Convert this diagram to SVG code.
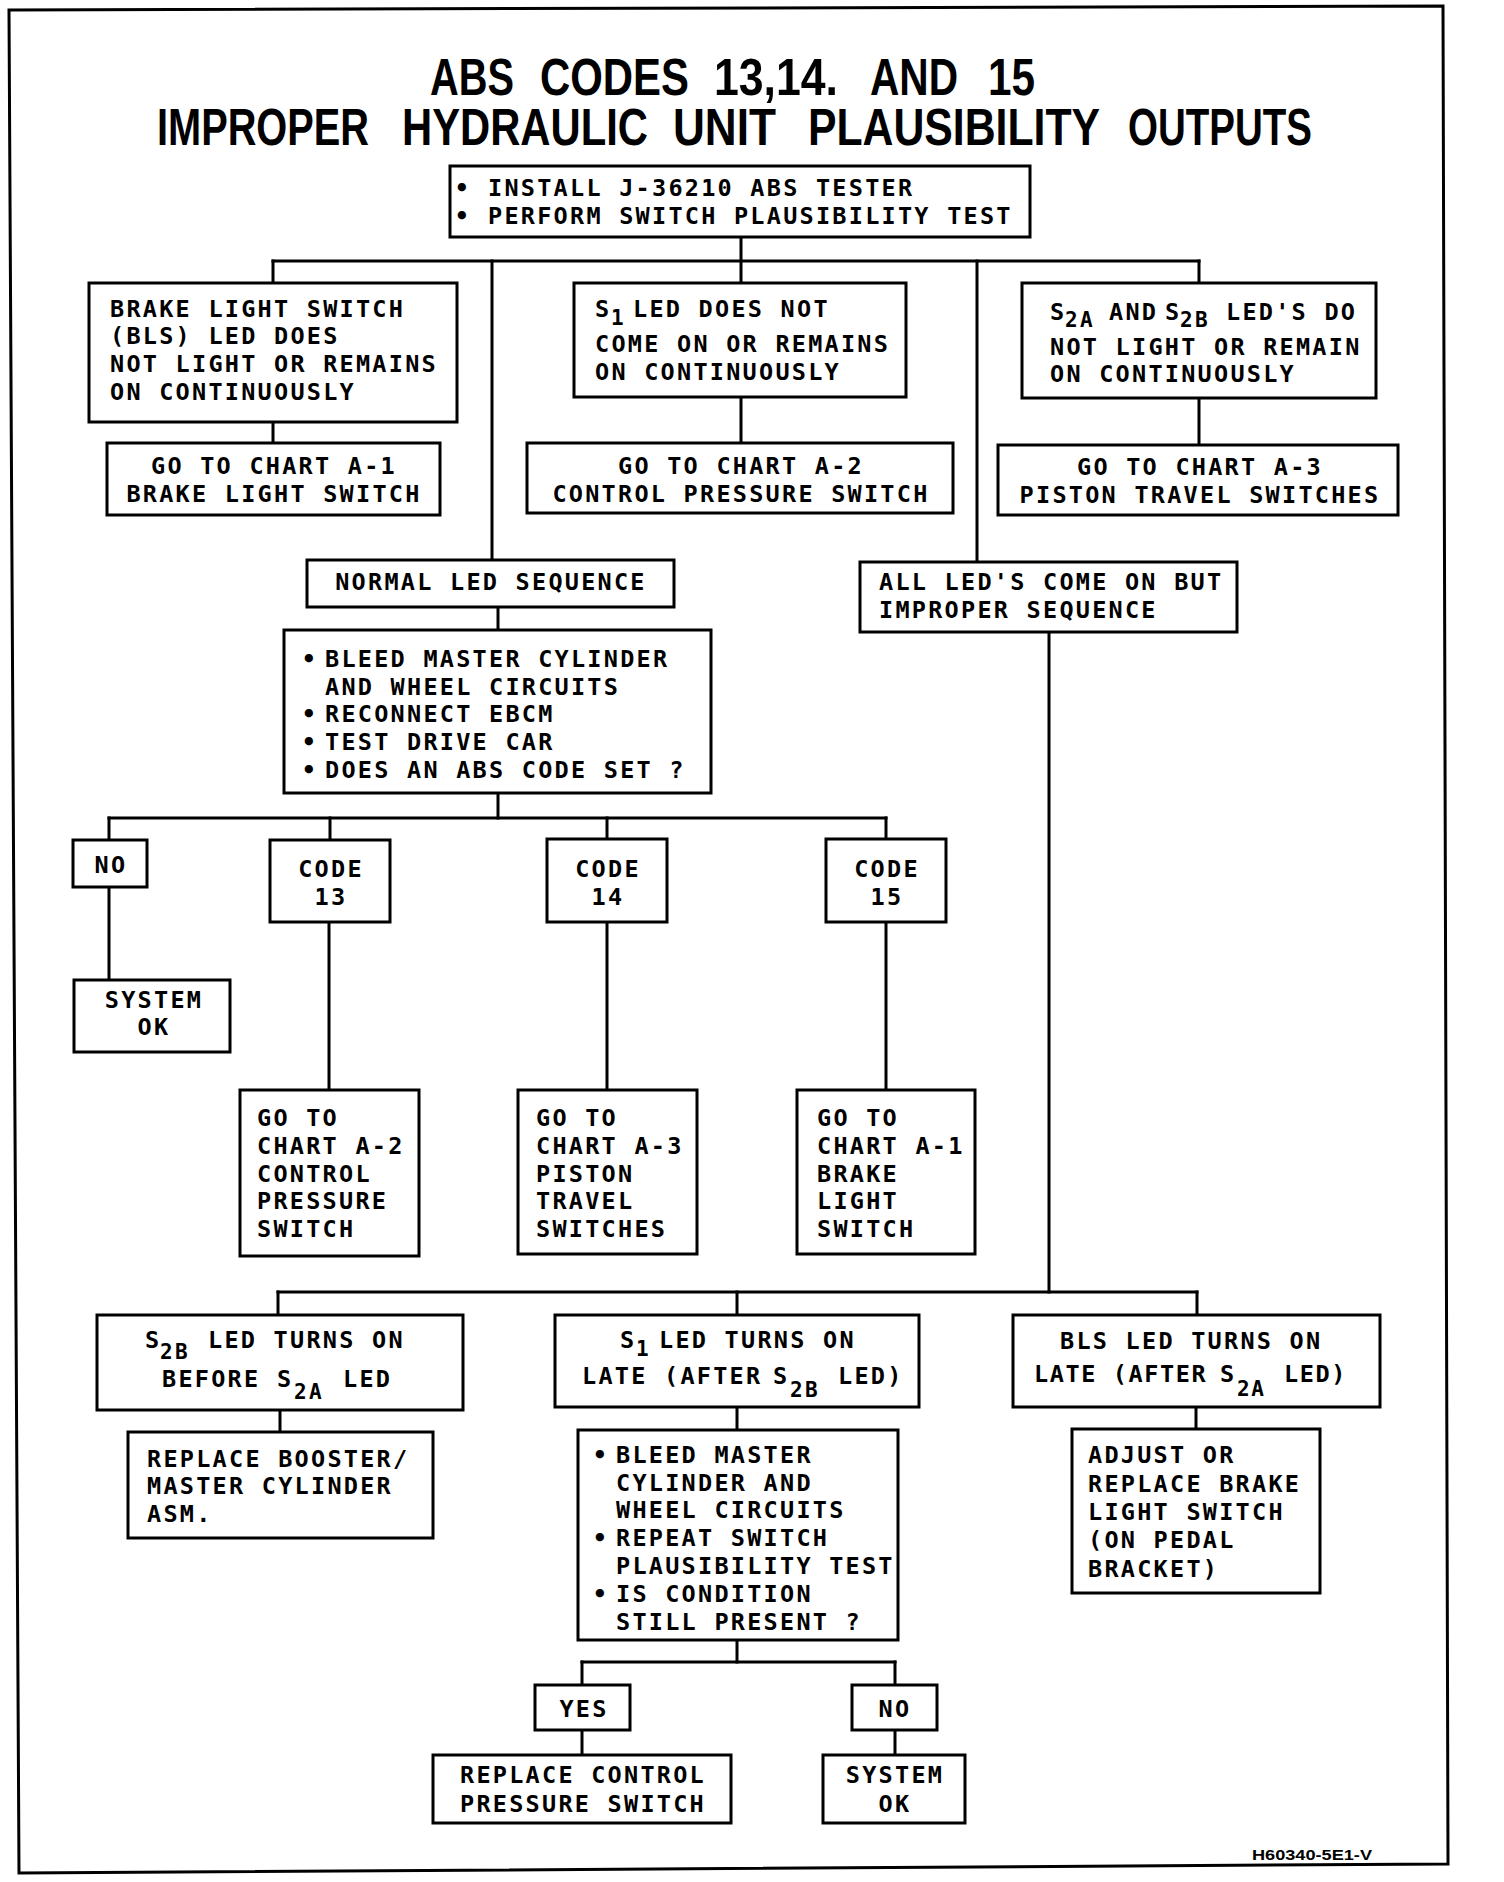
<svg xmlns="http://www.w3.org/2000/svg" width="1504" height="1882" viewBox="0 0 1504 1882">
<style>
.box{fill:#fff;stroke:#000;stroke-width:3}
.t{font-family:"DejaVu Sans Mono",monospace;font-size:23.5px;font-weight:bold;letter-spacing:2.25px;fill:#000}
.c{text-anchor:middle}
.sub{font-size:21px}
.title{font-family:"Liberation Sans",Arial,sans-serif;font-weight:bold;font-size:40px;fill:#000}
.conn line{stroke:#000;stroke-width:3;stroke-linecap:square}
</style>
<rect width="1504" height="1882" fill="#fff"/>
<polygon points="9,10 1443,6 1448,1864 19,1873" fill="none" stroke="#000" stroke-width="3"/>
<g id="title">
<g transform="translate(0,95) scale(1,1.3)">
<text class="title" x="430" y="0" textLength="84" lengthAdjust="spacingAndGlyphs">ABS</text>
<text class="title" x="540" y="0" textLength="149" lengthAdjust="spacingAndGlyphs">CODES</text>
<text class="title" x="714" y="0" textLength="124" lengthAdjust="spacingAndGlyphs">13,14.</text>
<text class="title" x="870" y="0" textLength="88" lengthAdjust="spacingAndGlyphs">AND</text>
<text class="title" x="988" y="0" textLength="47" lengthAdjust="spacingAndGlyphs">15</text>
</g>
<g transform="translate(0,145) scale(1,1.3)">
<text class="title" x="157" y="0" textLength="212" lengthAdjust="spacingAndGlyphs">IMPROPER</text>
<text class="title" x="402" y="0" textLength="246" lengthAdjust="spacingAndGlyphs">HYDRAULIC</text>
<text class="title" x="673" y="0" textLength="103" lengthAdjust="spacingAndGlyphs">UNIT</text>
<text class="title" x="808" y="0" textLength="292" lengthAdjust="spacingAndGlyphs">PLAUSIBILITY</text>
<text class="title" x="1128" y="0" textLength="184" lengthAdjust="spacingAndGlyphs">OUTPUTS</text>
</g>
</g>
<g class="conn" id="connectors">
<line x1="741" y1="237" x2="741" y2="283"/>
<line x1="273" y1="261" x2="1199" y2="261"/>
<line x1="273" y1="261" x2="273" y2="283"/>
<line x1="1199" y1="261" x2="1199" y2="283"/>
<line x1="492" y1="261" x2="492" y2="560"/>
<line x1="977" y1="261" x2="977" y2="562"/>
<line x1="273" y1="422" x2="273" y2="443"/>
<line x1="741" y1="397" x2="741" y2="443"/>
<line x1="1199" y1="398" x2="1199" y2="445"/>
<line x1="498" y1="607" x2="498" y2="630"/>
<line x1="498" y1="793" x2="498" y2="818"/>
<line x1="109" y1="818" x2="886" y2="818"/>
<line x1="109" y1="818" x2="109" y2="840"/>
<line x1="330" y1="818" x2="330" y2="840"/>
<line x1="607" y1="818" x2="607" y2="839"/>
<line x1="886" y1="818" x2="886" y2="839"/>
<line x1="109" y1="887" x2="109" y2="980"/>
<line x1="329" y1="922" x2="329" y2="1090"/>
<line x1="607" y1="922" x2="607" y2="1090"/>
<line x1="886" y1="922" x2="886" y2="1090"/>
<line x1="1049" y1="632" x2="1049" y2="1292"/>
<line x1="278" y1="1292" x2="1197" y2="1292"/>
<line x1="278" y1="1292" x2="278" y2="1315"/>
<line x1="737" y1="1292" x2="737" y2="1315"/>
<line x1="1197" y1="1292" x2="1197" y2="1315"/>
<line x1="280" y1="1410" x2="280" y2="1432"/>
<line x1="737" y1="1407" x2="737" y2="1430"/>
<line x1="1196" y1="1407" x2="1196" y2="1429"/>
<line x1="737" y1="1640" x2="737" y2="1662"/>
<line x1="582" y1="1662" x2="895" y2="1662"/>
<line x1="582" y1="1662" x2="582" y2="1685"/>
<line x1="895" y1="1662" x2="895" y2="1685"/>
<line x1="582" y1="1730" x2="582" y2="1755"/>
<line x1="895" y1="1730" x2="895" y2="1755"/>
</g>
<g id="n-start">
<rect class="box" x="450" y="166" width="580" height="71"/>
<text class="t c" x="463" y="196">•</text>
<text class="t" x="488" y="196">INSTALL J-36210 ABS TESTER</text>
<text class="t c" x="463" y="224">•</text>
<text class="t" x="488" y="224">PERFORM SWITCH PLAUSIBILITY TEST</text>
</g>
<g id="n-bls">
<rect class="box" x="89" y="283" width="368" height="139"/>
<text class="t" x="110" y="317">BRAKE LIGHT SWITCH</text>
<text class="t" x="110" y="344">(BLS) LED DOES</text>
<text class="t" x="110" y="372">NOT LIGHT OR REMAINS</text>
<text class="t" x="110" y="400">ON CONTINUOUSLY</text>
</g>
<g id="n-s1">
<rect class="box" x="574" y="283" width="332" height="114"/>
<text class="t" x="595" y="317">S<tspan class="sub" x="611" y="325">1</tspan><tspan x="633" y="317">LED DOES NOT</tspan></text>
<text class="t" x="595" y="352">COME ON OR REMAINS</text>
<text class="t" x="595" y="380">ON CONTINUOUSLY</text>
</g>
<g id="n-s2">
<rect class="box" x="1022" y="283" width="354" height="115"/>
<text class="t" x="1050" y="320">S<tspan class="sub" x="1065" y="327">2A</tspan><tspan x="1109" y="320">AND</tspan><tspan x="1165" y="320">S</tspan><tspan class="sub" x="1180" y="327">2B</tspan><tspan x="1226" y="320">LED'S DO</tspan></text>
<text class="t" x="1050" y="355">NOT LIGHT OR REMAIN</text>
<text class="t" x="1050" y="382">ON CONTINUOUSLY</text>
</g>
<g id="n-a1">
<rect class="box" x="107" y="443" width="333" height="72"/>
<text class="t c" x="274" y="474">GO TO CHART A-1</text>
<text class="t c" x="274" y="502">BRAKE LIGHT SWITCH</text>
</g>
<g id="n-a2">
<rect class="box" x="527" y="443" width="426" height="70"/>
<text class="t c" x="741" y="474">GO TO CHART A-2</text>
<text class="t c" x="741" y="502">CONTROL PRESSURE SWITCH</text>
</g>
<g id="n-a3">
<rect class="box" x="998" y="445" width="400" height="70"/>
<text class="t c" x="1200" y="475">GO TO CHART A-3</text>
<text class="t c" x="1200" y="503">PISTON TRAVEL SWITCHES</text>
</g>
<g id="n-normal">
<rect class="box" x="307" y="560" width="367" height="47"/>
<text class="t c" x="491" y="590">NORMAL LED SEQUENCE</text>
</g>
<g id="n-improper">
<rect class="box" x="860" y="562" width="377" height="70"/>
<text class="t" x="879" y="590">ALL LED'S COME ON BUT</text>
<text class="t" x="879" y="618">IMPROPER SEQUENCE</text>
</g>
<g id="n-bleed1">
<rect class="box" x="284" y="630" width="427" height="163"/>
<text class="t c" x="310" y="667">•</text>
<text class="t" x="325" y="667">BLEED MASTER CYLINDER</text>
<text class="t" x="325" y="695">AND WHEEL CIRCUITS</text>
<text class="t c" x="310" y="722">•</text>
<text class="t" x="325" y="722">RECONNECT EBCM</text>
<text class="t c" x="310" y="750">•</text>
<text class="t" x="325" y="750">TEST DRIVE CAR</text>
<text class="t c" x="310" y="778">•</text>
<text class="t" x="325" y="778">DOES AN ABS CODE SET ?</text>
</g>
<g id="n-no1">
<rect class="box" x="73" y="840" width="74" height="47"/>
<text class="t c" x="111" y="873">NO</text>
</g>
<g id="n-code13">
<rect class="box" x="270" y="840" width="120" height="82"/>
<text class="t c" x="331" y="877">CODE</text>
<text class="t c" x="331" y="905">13</text>
</g>
<g id="n-code14">
<rect class="box" x="547" y="839" width="120" height="83"/>
<text class="t c" x="608" y="877">CODE</text>
<text class="t c" x="608" y="905">14</text>
</g>
<g id="n-code15">
<rect class="box" x="826" y="839" width="120" height="83"/>
<text class="t c" x="887" y="877">CODE</text>
<text class="t c" x="887" y="905">15</text>
</g>
<g id="n-ok1">
<rect class="box" x="74" y="980" width="156" height="72"/>
<text class="t c" x="154" y="1008">SYSTEM</text>
<text class="t c" x="154" y="1035">OK</text>
</g>
<g id="n-a2b">
<rect class="box" x="240" y="1090" width="179" height="166"/>
<text class="t" x="257" y="1126">GO TO</text>
<text class="t" x="257" y="1154">CHART A-2</text>
<text class="t" x="257" y="1182">CONTROL</text>
<text class="t" x="257" y="1209">PRESSURE</text>
<text class="t" x="257" y="1237">SWITCH</text>
</g>
<g id="n-a3b">
<rect class="box" x="518" y="1090" width="179" height="164"/>
<text class="t" x="536" y="1126">GO TO</text>
<text class="t" x="536" y="1154">CHART A-3</text>
<text class="t" x="536" y="1182">PISTON</text>
<text class="t" x="536" y="1209">TRAVEL</text>
<text class="t" x="536" y="1237">SWITCHES</text>
</g>
<g id="n-a1b">
<rect class="box" x="797" y="1090" width="178" height="164"/>
<text class="t" x="817" y="1126">GO TO</text>
<text class="t" x="817" y="1154">CHART A-1</text>
<text class="t" x="817" y="1182">BRAKE</text>
<text class="t" x="817" y="1209">LIGHT</text>
<text class="t" x="817" y="1237">SWITCH</text>
</g>
<g id="n-s2b">
<rect class="box" x="97" y="1315" width="366" height="95"/>
<text class="t" x="145" y="1348">S<tspan class="sub" x="160" y="1359">2B</tspan><tspan x="208" y="1348">LED TURNS ON</tspan></text>
<text class="t" x="162" y="1387">BEFORE<tspan x="277" y="1387">S</tspan><tspan class="sub" x="294" y="1399">2A</tspan><tspan x="343" y="1387">LED</tspan></text>
</g>
<g id="n-s1late">
<rect class="box" x="555" y="1315" width="364" height="92"/>
<text class="t" x="620" y="1348">S<tspan class="sub" x="636" y="1356">1</tspan><tspan x="659" y="1348">LED TURNS ON</tspan></text>
<text class="t" x="582" y="1384">LATE (AFTER<tspan x="773" y="1384">S</tspan><tspan class="sub" x="790" y="1397">2B</tspan><tspan x="838" y="1384">LED)</tspan></text>
</g>
<g id="n-blslate">
<rect class="box" x="1013" y="1315" width="367" height="92"/>
<text class="t" x="1060" y="1349">BLS LED TURNS ON</text>
<text class="t" x="1034" y="1382" style="letter-spacing:1.6px">LATE (AFTER<tspan x="1220" y="1382">S</tspan><tspan class="sub" x="1237" y="1396">2A</tspan><tspan x="1284" y="1382">LED)</tspan></text>
</g>
<g id="n-booster">
<rect class="box" x="128" y="1432" width="305" height="106"/>
<text class="t" x="147" y="1467">REPLACE BOOSTER/</text>
<text class="t" x="147" y="1494">MASTER CYLINDER</text>
<text class="t" x="147" y="1522">ASM.</text>
</g>
<g id="n-bleed2">
<rect class="box" x="578" y="1430" width="320" height="210"/>
<text class="t c" x="601" y="1463">•</text>
<text class="t" x="616" y="1463">BLEED MASTER</text>
<text class="t" x="616" y="1491">CYLINDER AND</text>
<text class="t" x="616" y="1518">WHEEL CIRCUITS</text>
<text class="t c" x="601" y="1546">•</text>
<text class="t" x="616" y="1546">REPEAT SWITCH</text>
<text class="t" x="616" y="1574">PLAUSIBILITY TEST</text>
<text class="t c" x="601" y="1602">•</text>
<text class="t" x="616" y="1602">IS CONDITION</text>
<text class="t" x="616" y="1630">STILL PRESENT ?</text>
</g>
<g id="n-adjust">
<rect class="box" x="1072" y="1429" width="248" height="164"/>
<text class="t" x="1088" y="1463">ADJUST OR</text>
<text class="t" x="1088" y="1492">REPLACE BRAKE</text>
<text class="t" x="1088" y="1520">LIGHT SWITCH</text>
<text class="t" x="1088" y="1548">(ON PEDAL</text>
<text class="t" x="1088" y="1577">BRACKET)</text>
</g>
<g id="n-yes">
<rect class="box" x="535" y="1685" width="95" height="45"/>
<text class="t c" x="584" y="1717">YES</text>
</g>
<g id="n-no2">
<rect class="box" x="852" y="1685" width="85" height="45"/>
<text class="t c" x="895" y="1717">NO</text>
</g>
<g id="n-replacecps">
<rect class="box" x="433" y="1755" width="298" height="68"/>
<text class="t c" x="583" y="1783">REPLACE CONTROL</text>
<text class="t c" x="583" y="1812">PRESSURE SWITCH</text>
</g>
<g id="n-ok2">
<rect class="box" x="823" y="1755" width="142" height="68"/>
<text class="t c" x="895" y="1783">SYSTEM</text>
<text class="t c" x="895" y="1812">OK</text>
</g>
<text x="1252" y="1860" font-family="Liberation Sans, Arial, sans-serif" font-weight="bold" font-size="15" textLength="120" lengthAdjust="spacingAndGlyphs">H60340-5E1-V</text>
</svg>
